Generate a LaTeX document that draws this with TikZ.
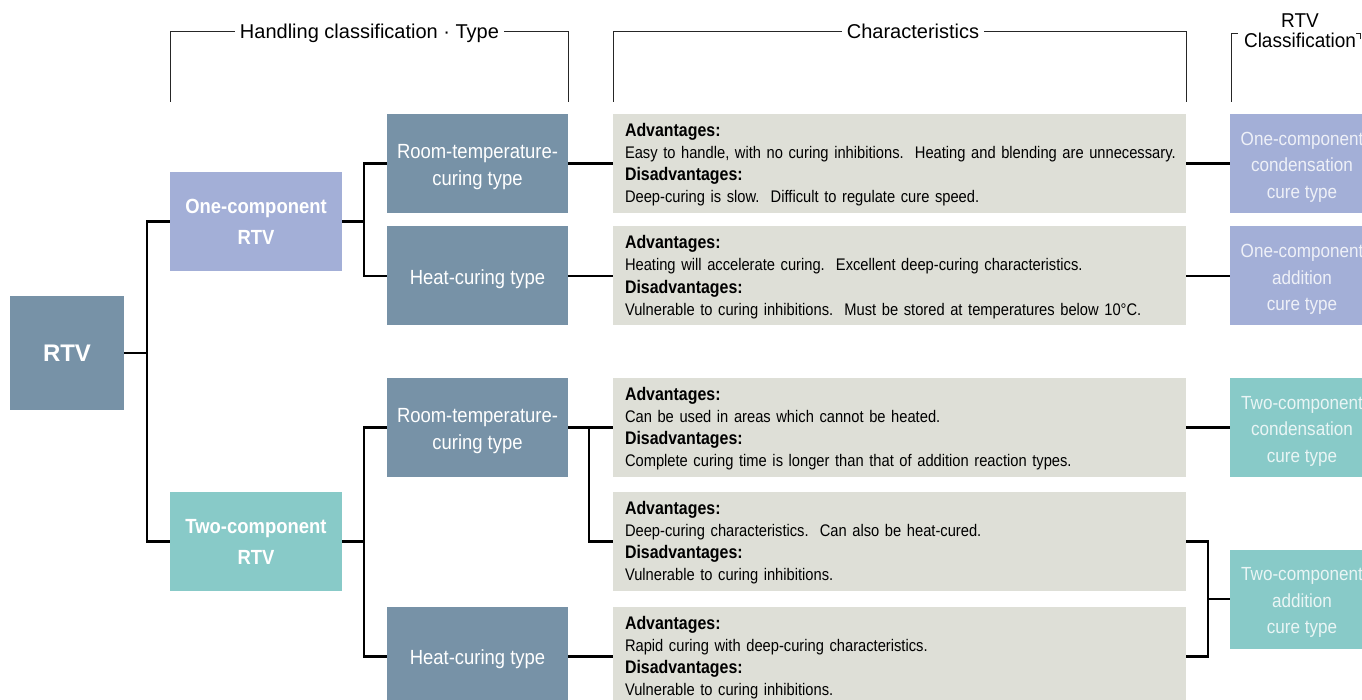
\documentclass[tikz,border=0pt]{standalone}
\usepackage{fontspec}
\setmainfont{Liberation Sans}
\newfontfamily\condf{Liberation Sans}[FakeStretch=0.9]
\newfontfamily\condb{Liberation Sans}[FakeStretch=0.875]
\newfontfamily\condh{Liberation Sans}[FakeStretch=0.95]
\usetikzlibrary{calc}
\definecolor{cSteel}{HTML}{7792A7}
\definecolor{cLav}{HTML}{A3AFD7}
\definecolor{cTeal}{HTML}{88CAC8}
\definecolor{cBeige}{HTML}{DEDFD7}
\newcommand\myAdv{\mbox{\fontsize{18.2}{22.3}\selectfont\bfseries Advantages:}}
\newcommand\myDis{\mbox{\fontsize{18.2}{22.3}\selectfont\bfseries Disadvantages:}}
\newcommand\myTop[1]{\rule{0pt}{#1}}
\begin{document}
\begin{tikzpicture}[x=1pt,y=-1pt,
  rtvbox/.style={rectangle, fill=cSteel, inner sep=0pt, minimum width=114pt, minimum height=114pt, text=white, font=\bfseries\fontsize{24}{28}\selectfont},
  compbox/.style={rectangle, inner sep=0pt, minimum width=172pt, minimum height=99pt, align=center, text=white, font=\condf\bfseries\fontsize{20.5}{31}\selectfont},
  typebox/.style={rectangle, fill=cSteel, inner sep=0pt, minimum width=181pt, minimum height=99pt, align=center, text=white, font=\condf\fontsize{20.5}{27}\selectfont},
  charbox/.style={rectangle, fill=cBeige, inner xsep=12pt, inner ysep=0pt, text width=549pt, minimum height=99pt, align=left, font=\condb\fontsize{16.8}{22.3}\selectfont},
  classbox/.style={rectangle, inner sep=0pt, minimum width=144pt, minimum height=99pt, align=center, text=white, text opacity=0.82, font=\condf\fontsize{19}{26.5}\selectfont},
  conn/.style={line width=2.4pt, black},
  hline/.style={line width=0.9pt, draw=black!85},
  hdr/.style={font=\fontsize{20}{24}\selectfont, inner sep=0pt},
  hdrb/.style={font=\condh\fontsize{20}{24}\selectfont, inner sep=0pt}
]
\useasboundingbox (0,0) rectangle (1362,700);
\clip (0,0) rectangle (1362,700);

% headers
\draw[hline] (170,102) -- (170,31) -- (568,31) -- (568,102);
\node[hdr, fill=white, inner xsep=5pt, anchor=base] (h1) at (369.5,39) {Handling classification · Type};
\draw[hline] (613,102) -- (613,31) -- (1186,31) -- (1186,102);
\node[hdr, fill=white, inner xsep=5pt, anchor=base] (h2) at (913,39) {Characteristics};
\draw[hline] (1231,102) -- (1231,33) -- (1238,33);
\draw[hline] (1356,33) -- (1360,33) -- (1360,39);
\node[hdrb, anchor=base] (h3a) at (1300,28) {RTV};
\node[hdrb, anchor=base] (h3b) at (1300,48) {Classification};

% boxes
\node[rtvbox] (rtv) at (67,353) {RTV};
\node[compbox, fill=cLav] (one) at (256,221.5) {One-component\\RTV};
\node[compbox, fill=cTeal] (two) at (256,541.5) {Two-component\\RTV};
\node[typebox] (rt1) at (477.5,163.5) {\myTop{21pt}Room-temperature-\\curing type};
\node[typebox] (ht1) at (477.5,276) {\myTop{21pt}Heat-curing type};
\node[typebox] (rt2) at (477.5,427.5) {\myTop{21pt}Room-temperature-\\curing type};
\node[typebox] (ht2) at (477.5,656.5) {\myTop{21pt}Heat-curing type};

\node[charbox] (c1) at (899.5,163.5) {\myTop{15.5pt}\myAdv\\\mbox{Easy to handle, with no curing inhibitions.\ \ Heating and blending are unnecessary.}\\\myDis\\\mbox{Deep-curing is slow.\ \ Difficult to regulate cure speed.}};
\node[charbox] (c2) at (899.5,276) {\myTop{15.5pt}\myAdv\\\mbox{Heating will accelerate curing.\ \ Excellent deep-curing characteristics.}\\\myDis\\\mbox{Vulnerable to curing inhibitions.\ \ Must be stored at temperatures below 10°C.}};
\node[charbox] (c3) at (899.5,427.5) {\myTop{15.5pt}\myAdv\\\mbox{Can be used in areas which cannot be heated.}\\\myDis\\\mbox{Complete curing time is longer than that of addition reaction types.}};
\node[charbox] (c4) at (899.5,541.5) {\myTop{15.5pt}\myAdv\\\mbox{Deep-curing characteristics.\ \ Can also be heat-cured.}\\\myDis\\\mbox{Vulnerable to curing inhibitions.}};
\node[charbox] (c5) at (899.5,656.5) {\myTop{15.5pt}\myAdv\\\mbox{Rapid curing with deep-curing characteristics.}\\\myDis\\\mbox{Vulnerable to curing inhibitions.}};

\node[classbox, fill=cLav] (k1) at (1302,163.5) {\myTop{20pt}One-component\\condensation\\cure type};
\node[classbox, fill=cLav] (k2) at (1302,276) {\myTop{20pt}One-component\\addition\\cure type};
\node[classbox, fill=cTeal] (k3) at (1302,427.5) {\myTop{20pt}Two-component\\condensation\\cure type};
\node[classbox, fill=cTeal] (k4) at (1302,599) {\myTop{20pt}Two-component\\addition\\cure type};

% connectors
\draw[conn] (rtv.east) -- ++(23,0) coordinate (j0) |- (one.west);
\draw[conn] (j0) |- (two.west);
\draw[conn] (one.east) -- ++(22,0) coordinate (j1) |- (rt1.west);
\draw[conn] (j1) |- (ht1.west);
\draw[conn] (two.east) -- ++(22,0) coordinate (j2) |- (rt2.west);
\draw[conn] (j2) |- (ht2.west);
\draw[conn] (rt1.east) -- (c1.west);
\draw[conn] (ht1.east) -- (c2.west);
\draw[conn] (rt2.east) -- (c3.west);
\draw[conn] (rt2.east) -- ++(21,0) coordinate (j3) |- (c4.west);
\draw[conn] (ht2.east) -- (c5.west);
\draw[conn] (c1.east) -- (k1.west);
\draw[conn] (c2.east) -- (k2.west);
\draw[conn] (c3.east) -- (k3.west);
\coordinate (j4) at ($(c4.east)!0.5!(c5.east)+(22,0)$);
\draw[conn] (c4.east) -| (j4) |- (c5.east);
\draw[conn] (j4) -- (k4.west);
\end{tikzpicture}
\end{document}
